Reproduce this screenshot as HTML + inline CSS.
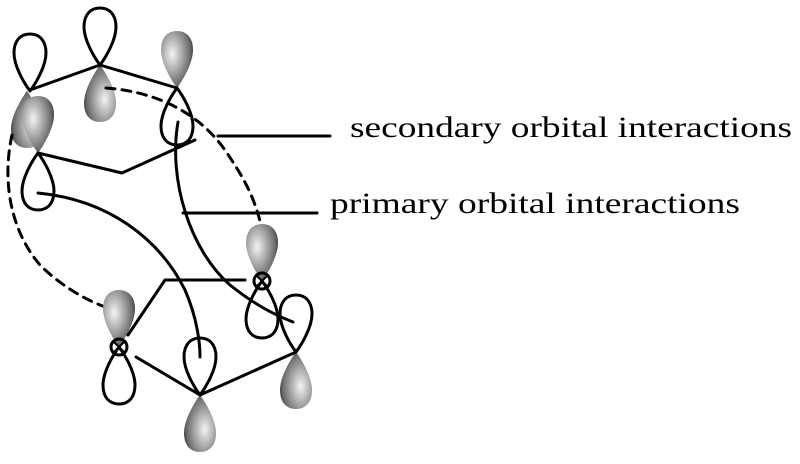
<!DOCTYPE html>
<html><head><style>html,body{margin:0;padding:0;background:#fff;}</style></head>
<body>
<svg width="800" height="459" viewBox="0 0 800 459" xmlns="http://www.w3.org/2000/svg">
<defs>
<radialGradient id="g" cx="0.35" cy="0.4" r="0.7">
<stop offset="0" stop-color="#f4f4f4"/><stop offset="0.4" stop-color="#b0b0b0"/><stop offset="0.8" stop-color="#6c6c6c"/><stop offset="1" stop-color="#333"/>
</radialGradient>
<path id="lobe" d="M0,0 C-6,-8 -16,-25 -16,-38 C-16,-51 -9,-57 0,-57 C9,-57 16,-51 16,-38 C16,-25 6,-8 0,0 Z"/>
</defs>
<g stroke="#000" stroke-width="3" fill="none" stroke-linecap="round" stroke-linejoin="round">
<use href="#lobe" transform="translate(30,91)" fill="#fff"/>
<use href="#lobe" transform="translate(27,91) rotate(180)" fill="url(#g)" stroke="none"/>
<use href="#lobe" transform="translate(100,65)" fill="#fff"/>
<use href="#lobe" transform="translate(100,65) rotate(180)" fill="url(#g)" stroke="none"/>
<use href="#lobe" transform="translate(177,88)" fill="url(#g)" stroke="none"/>
<use href="#lobe" transform="translate(177,88) rotate(180)" fill="#fff"/>
<use href="#lobe" transform="translate(38,153)" fill="url(#g)" stroke="none"/>
<use href="#lobe" transform="translate(38,153) rotate(180)" fill="#fff"/>
<polyline points="30,90 100,65 177,88"/>
<polyline points="38,153 122,173 195,140"/>
<path d="M106,88 C160,92 200,115 225,150 C245,180 258,200 266,250" stroke-dasharray="9,7"/>
<path d="M12,135 C2,180 10,230 40,265 C60,285 85,300 108,308" stroke-dasharray="9,7"/>
<line x1="218" y1="136" x2="330" y2="136"/>
<line x1="183" y1="213" x2="317" y2="213"/>
<use href="#lobe" transform="translate(262,281)" fill="url(#g)" stroke="none"/>
<use href="#lobe" transform="translate(262,281) rotate(180)" fill="#fff"/>
<use href="#lobe" transform="translate(119,347)" fill="url(#g)" stroke="none"/>
<use href="#lobe" transform="translate(119,347) rotate(180)" fill="#fff"/>
<use href="#lobe" transform="translate(200,395)" fill="#fff"/>
<use href="#lobe" transform="translate(200,395) rotate(180)" fill="url(#g)" stroke="none"/>
<use href="#lobe" transform="translate(296,352)" fill="#fff"/>
<use href="#lobe" transform="translate(296,352) rotate(180)" fill="url(#g)" stroke="none"/>
<path d="M38,193 C110,200 160,240 185,290 C198,320 200,345 200,357"/>
<path d="M178,122 C168,180 190,250 230,285 C255,305 275,315 293,322"/>
<polyline points="128,335 165,280 245,280"/>
<polyline points="136,357 200,395 296,352"/>
<circle cx="119" cy="347" r="8" fill="none"/>
<line x1="113" y1="341" x2="125" y2="353" stroke-width="2"/>
<line x1="125" y1="341" x2="113" y2="353" stroke-width="2"/>
<circle cx="262" cy="281" r="8" fill="none"/>
<line x1="256" y1="275" x2="268" y2="287" stroke-width="2"/>
<line x1="268" y1="275" x2="256" y2="287" stroke-width="2"/>
</g>
<text font-family="Liberation Serif, serif" font-size="30" x="350" y="137" textLength="442" lengthAdjust="spacingAndGlyphs">secondary orbital interactions</text>
<text font-family="Liberation Serif, serif" font-size="30" x="330" y="213" textLength="410" lengthAdjust="spacingAndGlyphs">primary orbital interactions</text>
</svg>
</body></html>
